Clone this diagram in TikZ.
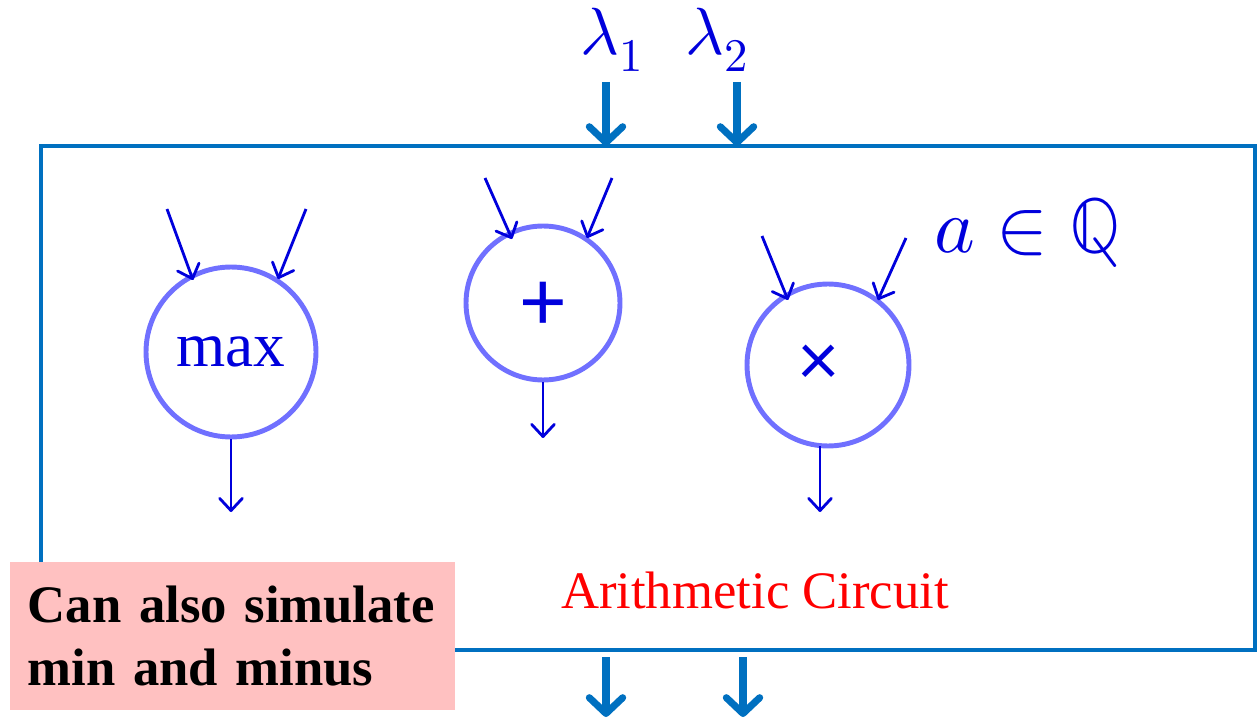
\documentclass[tikz,border=0pt]{standalone}
\usepackage{fontspec}
\usepackage{unicode-math}
\setmainfont{Liberation Serif}
\setmathfont{Latin Modern Math}
\newfontfamily\opsfont{Carlito}
\usetikzlibrary{arrows.meta}
\definecolor{frameblue}{RGB}{0,112,192}
\definecolor{gateblue}{RGB}{112,112,255}
\definecolor{wireblue}{RGB}{0,0,220}
\definecolor{notepink}{RGB}{255,193,193}
\begin{document}
\begin{tikzpicture}[x=0.02cm,y=-0.02cm,
  frame/.style={draw=frameblue,line width=2.3pt},
  bigarrow/.style={draw=frameblue,line width=4pt,-{Straight Barb[length=9pt,width=19pt,round]}},
  gate/.style={circle,draw=gateblue,line width=2.8pt,inner sep=0pt},
  wire/.style={draw=wireblue,line width=1.6pt,-{Straight Barb[length=7pt,width=13pt,round]}},
  lbl/.style={text=wireblue,inner sep=0pt}]
\useasboundingbox (0,0) rectangle (1258,719);
% frame
\node[frame,minimum width=24.28cm,minimum height=10.08cm,inner sep=0pt,outer sep=0pt] (box) at (648,398) {};
% lambda inputs
\node[lbl,font=\fontsize{38}{42}\selectfont] (l1) at (612,40) {$\lambda_1$};
\node[lbl,font=\fontsize{38}{42}\selectfont] (l2) at (717,40) {$\lambda_2$};
\coordinate (t1s) at (606,82); \coordinate (t2s) at (737,82);
\draw[bigarrow] (t1s) -- (t1s |- box.north);
\draw[bigarrow] (t2s) -- (t2s |- box.north);
% bottom outputs
\coordinate (b1s) at (606,657); \coordinate (b1e) at (606,717);
\coordinate (b2s) at (743,657); \coordinate (b2e) at (743,717);
\draw[bigarrow] (b1s) -- (b1e);
\draw[bigarrow] (b2s) -- (b2e);
% gates
\node[gate,minimum size=3.4cm] (gmax) at (231,352) {};
\node[lbl,font=\fontsize{36}{40}\selectfont] at (gmax) {max};
\node[gate,minimum size=3.08cm] (gplus) at (543,303) {};
\node[lbl,font=\opsfont\fontsize{50}{50}\selectfont] at (543,306) {+};
\node[gate,minimum size=3.24cm] (gtimes) at (828,365) {};
\node[lbl,font=\opsfont\fontsize{44}{44}\selectfont] at (819,365) {×};
% wires
\coordinate (m1) at (167,209); \coordinate (m2) at (306,209); \coordinate (mo) at (231,512);
\draw[wire] (m1) -- (193,280);
\draw[wire] (m2) -- (278,279);
\draw[wire] (gmax.south) -- (mo);
\coordinate (p1) at (485,178); \coordinate (p2) at (612,178); \coordinate (po) at (543,438);
\draw[wire] (p1) -- (512,239);
\draw[wire] (p2) -- (587,238);
\draw[wire] (gplus.south) -- (po);
\coordinate (x1) at (762,236); \coordinate (x2) at (906,238); \coordinate (xo) at (820,512);
\draw[wire] (x1) -- (788,300);
\draw[wire] (x2) -- (878,300);
\draw[wire] (820,446) -- (xo);
% labels
\node[lbl,font=\fontsize{44}{48}\selectfont] (aq) at (1028,233) {$a\in\mathbb{Q}$};
\node[text=red,inner sep=0pt,font=\fontsize{30}{36}\selectfont] (ac) at (755,590) {Arithmetic Circuit};
% note
\node[fill=notepink,anchor=north west,inner xsep=0.35cm,inner ysep=0pt,text width=8.2cm,minimum height=2.96cm,align=left,
  font=\bfseries\fontsize{30}{36}\selectfont] (note) at (10,562) {Can also simulate\\min and minus};
\end{tikzpicture}
\end{document}
